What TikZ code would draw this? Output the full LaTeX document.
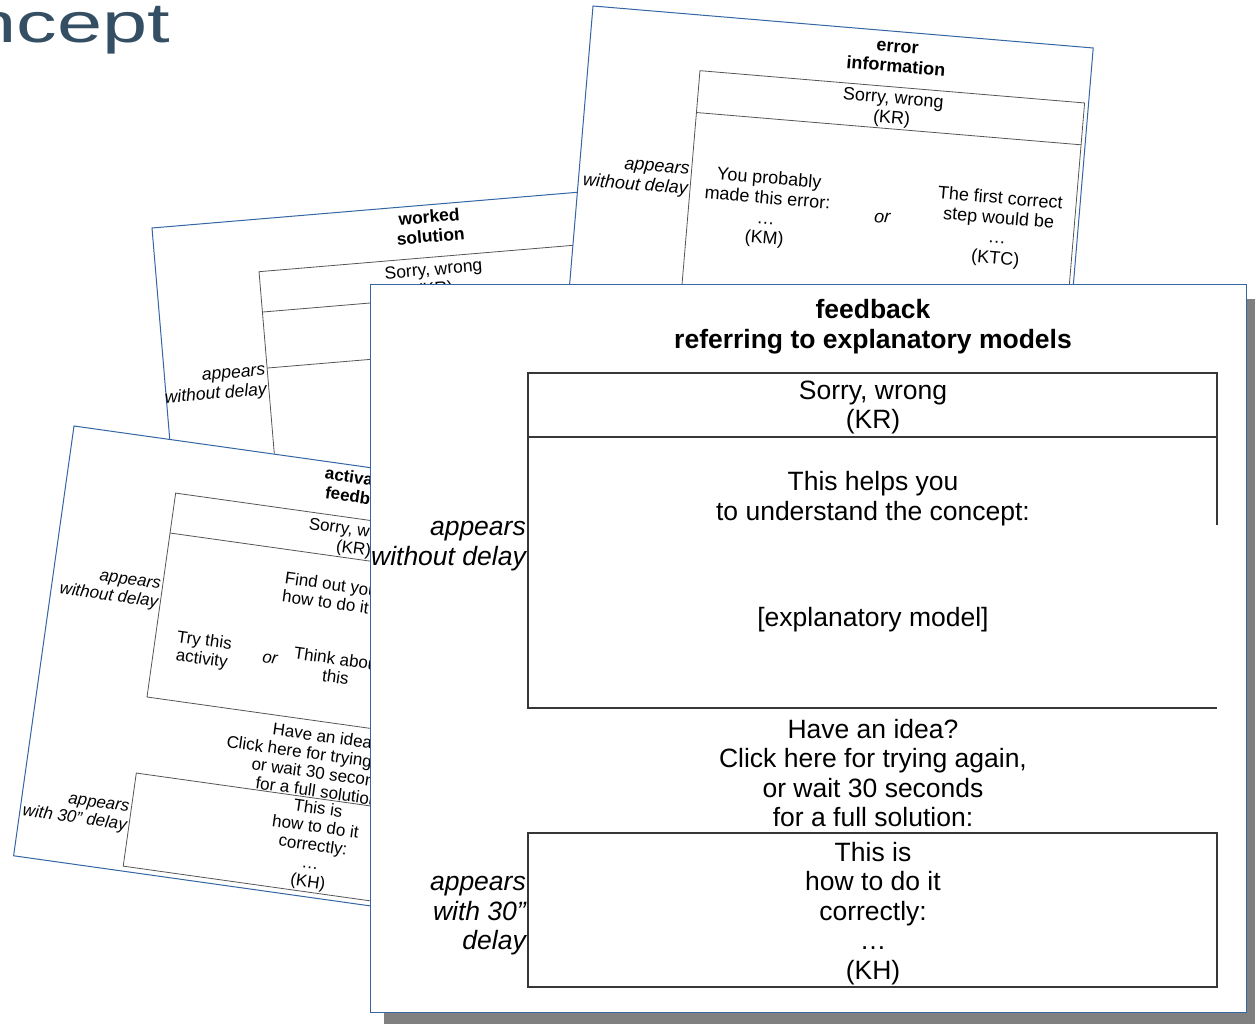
\documentclass[tikz,border=0pt]{standalone}
\usepackage{fontspec}
\setmainfont{Liberation Sans}
\definecolor{cardblue}{RGB}{52,101,164}
\definecolor{titleblue}{RGB}{52,79,99}
\definecolor{shadowgray}{RGB}{128,128,128}
\definecolor{boxgray}{RGB}{85,85,85}
\definecolor{frontline}{RGB}{55,55,55}
\begin{document}
\begin{tikzpicture}[x=1pt,y=-1pt,
  card/.style={draw=cardblue, line width=1pt, fill=white},
  inbox/.style={draw=boxgray, line width=0.8pt},
  frontbox/.style={draw=frontline, line width=1.3pt},
  txt/.style={inner sep=0pt, align=center},
  etxt/.style={txt, font=\fontsize{18}{20}\selectfont},
  etitle/.style={txt, font=\fontsize{18}{20}\selectfont\bfseries},
  wtxt/.style={txt, font=\fontsize{17.5}{19.5}\selectfont},
  wtitle/.style={txt, font=\fontsize{17.5}{19.5}\selectfont\bfseries},
  atxt/.style={txt, font=\fontsize{17}{18.5}\selectfont},
  atitle/.style={txt, font=\fontsize{17}{19}\selectfont\bfseries},
  ftxt/.style={txt, font=\fontsize{26.5}{29.5}\selectfont},
  ftitle/.style={txt, font=\fontsize{26.5}{30}\selectfont\bfseries},
  lbl/.style={anchor=east, align=right}
]
\useasboundingbox (0,0) rectangle (1255,1024);

% title fragment
\begin{scope}[shift={(-29,43)}, xscale=1.45]
  \node[anchor=base west, inner sep=0pt, text=titleblue, transform shape,
        font=\fontsize{56}{60}\selectfont] (title) at (0,0) {ncept};
\end{scope}

% worked solution card (bottom-most)
\begin{scope}[shift={(152,228)}, rotate=4.8, transform shape]
  \draw[card] (0,0) rectangle (458,330);
  \draw[inbox] (103,52.5) rectangle (452,320);
  \draw[inbox] (103,93) -- (452,93);
  \draw[inbox] (103,149.2) -- (452,149.2);
  \node[wtitle] (wt) at (277,21.5) {worked\\solution};
  \node[wtxt] (wkr) at (277,76) {Sorry, wrong\\(KR)};
  \node[wtxt, lbl, font=\fontsize{17.5}{19.5}\selectfont\itshape] (wapp) at (101,163) {appears\\without delay};
\end{scope}

% error information card
\begin{scope}[shift={(593,6)}, rotate=-4.8, transform shape]
  \draw[card] (0,0) rectangle (502,420);
  \draw[inbox] (112,55.5) rectangle (498,400);
  \draw[inbox] (112,97.5) -- (498,97.5);
  \node[etitle] (et) at (307,26) {error\\information};
  \node[etxt] (ekr) at (307,78) {Sorry, wrong\\(KR)};
  \node[etxt, lbl, font=\fontsize{18}{20}\selectfont\itshape] (eapp) at (110,167) {appears\\without delay};
  \node[etxt] (ekm) at (190,188) {You probably\\made this error:\\…\\(KM)};
  \node[etxt, font=\fontsize{18}{20}\selectfont\itshape] (eor) at (306,187) {or};
  \node[etxt] (ektc) at (422,188.5) {The first correct\\step would be\\…\\(KTC)};
\end{scope}

% activating feedback card
\begin{scope}[shift={(74,426)}, rotate=-8, transform shape]
  \draw[card] (0,0) rectangle (490,434);
  \draw[inbox] (110,52.3) rectangle (480,258.2);
  \draw[inbox] (110,92.6) -- (480,92.6);
  \draw[inbox] (110,335) rectangle (480,429);
  \node[atitle] (at) at (295,21) {activating\\feedback};
  \node[atxt] (akr) at (294,74.5) {Sorry, wrong\\(KR)};
  \node[atxt, lbl, font=\fontsize{17}{18.5}\selectfont\itshape] (aapp) at (108,156) {appears\\without delay};
  \node[atxt, anchor=west, align=left] (afind) at (230,130) {Find out yourself\\how to do it};
  \node[atxt] (atry) at (159,204.5) {Try this\\activity};
  \node[atxt, font=\fontsize{17}{18.5}\selectfont\itshape] (aor) at (226.4,203.5) {or};
  \node[atxt] (athink) at (294,203) {Think about\\this};
  \node[atxt] (aidea) at (294,300) {Have an idea?\\Click here for trying again,\\or wait 30 seconds\\for a full solution:};
  \node[atxt] (akh) at (295,383) {This is\\how to do it\\correctly:\\…\\(KH)};
  \node[atxt, lbl, font=\fontsize{17}{18.5}\selectfont\itshape] (aapp2) at (108,381) {appears\\with 30” delay};
\end{scope}

% front card
\fill[shadowgray] (384,299) rectangle (1262,1030);
\draw[card] (370,285) rectangle (1246,1012);
\draw[frontbox] (1217,525) -- (1217,373) -- (528,373) -- (528,708) -- (1217,708);
\draw[frontbox] (528,437) -- (1217,437);
\draw[frontbox] (528,833) rectangle (1217,987);

\node[ftitle] (ft) at (873,327) {feedback\\referring to explanatory models};
\node[ftxt] (fkr) at (873,407.5) {Sorry, wrong\\(KR)};
\node[ftxt] (fhelp) at (873,498.5) {This helps you\\to understand the concept:};
\node[ftxt] (fmodel) at (873,620) {[explanatory model]};
\node[ftxt] (fidea) at (873,773) {Have an idea?\\Click here for trying again,\\or wait 30 seconds\\for a full solution:};
\node[ftxt] (fkh) at (873,913.5) {This is\\how to do it\\correctly:\\…\\(KH)};
\node[ftxt, lbl, font=\fontsize{26.5}{29.5}\selectfont\itshape] (fapp) at (526,546) {appears\\without delay};
\node[ftxt, lbl, font=\fontsize{26.5}{29.5}\selectfont\itshape] (fapp2) at (526,916) {appears\\with 30”\\delay};
\end{tikzpicture}
\end{document}
